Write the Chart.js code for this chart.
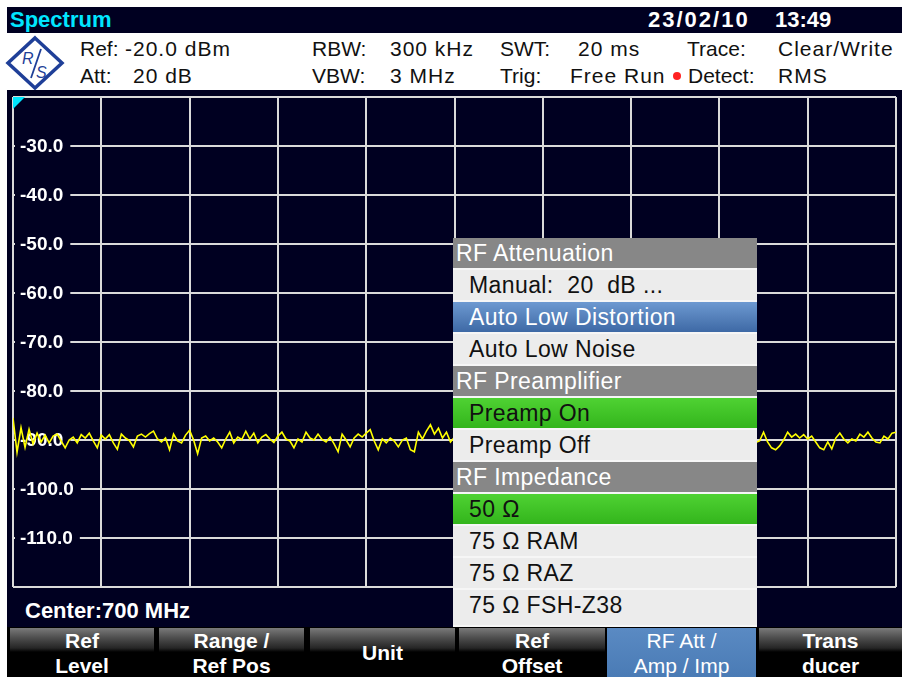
<!DOCTYPE html>
<html>
<head>
<meta charset="utf-8">
<script src="https://cdn.jsdelivr.net/npm/chart.js@4.4.0/dist/chart.umd.min.js"></script>
<style>
    body { margin: 0; width: 902px; height: 677px; overflow: hidden; background: #fff; font-family: "Liberation Sans", Arial, sans-serif; }
    .abs { position: absolute; white-space: nowrap; }
    #topbar { left: 7px; top: 7px; width: 895px; height: 26px; background: #000021; }
    #info { left: 7px; top: 33px; width: 895px; height: 57px; background: #fff; }
    #screen { left: 7px; top: 90px; width: 895px; height: 538px; background: #000021; }
    #keys { left: 7px; top: 627px; width: 895px; height: 50px; background: #000; }
    .hdr { font-weight: bold; font-size: 22px; line-height: 26px; top: 7px; }
    .inf { font-size: 21px; line-height: 26px; color: #111; }
    .inf.val { letter-spacing: 1px; }
    .key { top: 628px; height: 49px; color: #fff; font-weight: bold; font-size: 21px; line-height: 25px; text-align: center;
           background: linear-gradient(to bottom, #7a7a7a 0px, #4d4d4d 10px, #262626 20px, #000 24px); }
    .key.active { background: linear-gradient(to bottom, #5a8ac3 0px, #4a7bb5 100%); font-weight: normal; }
    .key.single { line-height: 49px; }
    #menu { left: 453px; top: 238px; width: 304px; height: 389px; background: #f6f6f6; }
    .row { position: absolute; left: 0; width: 304px; height: 30px; line-height: 31px; font-size: 23px; letter-spacing: 0.4px; color: #111;
           padding-left: 16px; box-sizing: border-box; background: #ececec; white-space: pre; }
    .row.head { background: #878787; color: #fff; padding-left: 3px; }
    .row.sel { background: linear-gradient(to bottom, #6d99d1, #3e69a5); color: #fff; }
    .row.on { background: linear-gradient(to bottom, #4fd233, #33b51c); }
</style>
</head>
<body>
<div id="topbar" class="abs"></div>
<div id="info" class="abs"></div>
<div id="screen" class="abs"></div>
<div id="keys" class="abs"></div>

<div class="abs hdr" style="left:10px;color:#00e6ff;">Spectrum</div>
<div class="abs hdr" style="left:648px;color:#fff;letter-spacing:2px;">23/02/10</div>
<div class="abs hdr" style="left:775px;color:#fff;">13:49</div>

<svg class="abs" style="left:0;top:33px;" width="70" height="57">
    <polygon points="35,5 62,30 35,55 8,30" fill="none" stroke="#1f3f98" stroke-width="3.5"/>
    <text x="22" y="31" font-size="16" font-style="italic" font-family="Liberation Sans" fill="#1f3f98">R</text>
    <line x1="41" y1="16" x2="31" y2="45" stroke="#1f3f98" stroke-width="1.8"/>
    <text x="36" y="45" font-size="16" font-style="italic" font-family="Liberation Sans" fill="#1f3f98">S</text>
</svg>

<div id="infoText"></div>
<div class="abs" style="left:673px;top:72px;width:8px;height:8px;border-radius:4px;background:#f22;"></div>

<div class="abs" style="left:0;top:90px;width:902px;height:500px;"><canvas id="spectrum-chart" width="902" height="500"></canvas></div>

<div class="abs" style="left:25px;top:598px;color:#fff;font-weight:bold;font-size:22px;line-height:26px;">Center:700 MHz</div>

<div id="menu" class="abs"></div>
<div id="softkeys"></div>

<script>
const traceLevels = [
    -85.5, -92.5, -87.5, -91.5, -87.8, -90.8, -88.6, -90.4, -89.0, -90.6, -89.2,
    -88.8, -90.2, -91.6, -90.0, -89.4, -90.6, -88.9, -89.6, -88.6, -90.2,
    -91.6, -89.0, -89.8, -88.9, -90.6, -91.9, -88.8, -89.6, -90.1, -91.4,
    -89.2, -88.8, -89.4, -88.7, -88.2, -89.8, -90.4, -89.6, -92.0, -88.8,
    -90.2, -90.6, -89.0, -88.0, -90.0, -92.8, -89.6, -89.2, -90.2, -89.6,
    -90.4, -91.6, -89.8, -88.4, -90.6, -89.4, -89.9, -88.2, -89.8, -88.6,
    -90.6, -89.4, -88.9, -89.8, -90.5, -89.2, -88.4, -89.8, -90.2, -91.6,
    -89.8, -90.4, -88.4, -89.6, -90.0, -88.8, -89.9, -90.4, -89.4, -90.8,
    -92.4, -88.8, -90.0, -91.4, -89.6, -88.8, -89.4, -88.6, -87.9, -90.2,
    -92.0, -89.8, -90.6, -89.6, -90.2, -91.4, -90.0, -89.6, -92.0, -92.4,
    -88.4, -89.8, -88.2, -86.9, -88.8, -87.6, -89.6, -88.4, -90.4, -89.4,
    // behind the menu
    -90.2, -88.9, -89.7, -91.2, -89.4, -88.6, -90.3, -89.1, -90.8, -89.5,
    -88.7, -90.1, -91.5, -89.3, -89.9, -88.5, -90.4, -89.2, -90.9, -89.6,
    -88.3, -89.8, -90.6, -91.8, -89.5, -88.9, -90.0, -89.4, -88.6, -90.5,
    -89.7, -91.1, -89.0, -88.8, -90.2, -89.5, -90.7, -89.1, -88.4, -89.9,
    -91.3, -90.0, -89.2, -88.7, -90.4, -89.6, -90.9, -89.3, -88.9, -90.1,
    -91.7, -89.4, -88.5, -89.8, -90.3, -89.0, -90.6, -89.5, -88.8, -90.2,
    -89.7, -91.0, -89.3, -88.6, -90.0, -89.4, -90.8, -89.9, -88.7, -90.3,
    -89.1, -91.4, -89.6, -88.9, -90.5,
    // right of the menu
    -90.2, -88.4, -90.4, -91.6, -92.0, -91.2, -90.0, -88.4, -89.4, -88.8,
    -89.6, -88.9, -89.8, -89.2, -90.4, -91.6, -92.0, -90.4, -91.8, -89.6,
    -88.6, -89.8, -90.6, -89.8, -90.2, -88.8, -89.4, -88.4, -89.6, -90.4,
    -90.6, -89.2, -89.8, -88.6, -88.4
]
const refLevel = -20
const bottomLevel = -120
const levelLabels = [-30, -40, -50, -60, -70, -80, -90, -100, -110]

// [text, left, top, is value]
const infoLines = [
    ["Ref:", 80, 36, 0], ["-20.0 dBm", 125, 36, 1], ["Att:", 80, 63, 0], ["20 dB", 133, 63, 1],
    ["RBW:", 312, 36, 0], ["300 kHz", 390, 36, 1], ["VBW:", 312, 63, 0], ["3 MHz", 390, 63, 1],
    ["SWT:", 500, 36, 0], ["20 ms", 578, 36, 1], ["Trig:", 500, 63, 0], ["Free Run", 570, 63, 1],
    ["Trace:", 687, 36, 0], ["Clear/Write", 778, 36, 1], ["Detect:", 688, 63, 0], ["RMS", 778, 63, 1]
]
const menuItems = [
    ["RF Attenuation", "head"], ["Manual:  20  dB ...", ""], ["Auto Low Distortion", "sel"], ["Auto Low Noise", ""],
    ["RF Preamplifier", "head"], ["Preamp On", "on"], ["Preamp Off", ""],
    ["RF Impedance", "head"], ["50 \u03a9", "on"], ["75 \u03a9 RAM", ""], ["75 \u03a9 RAZ", ""], ["75 \u03a9 FSH-Z38", ""]
]
const softkeys = [
    [["Ref", "Level"], 10, 154], [["Range /", "Ref Pos"], 159, 304], [["Unit"], 310, 455],
    [["Ref", "Offset"], 459, 605], [["RF Att /", "Amp / Imp"], 607, 756], [["Trans", "ducer"], 759, 902]
]
const activeKey = 4
const screenColor = '#000021'

// header texts
let html = ''
infoLines.forEach(l => {
    html += `<div class="abs inf${l[3] ? ' val' : ''}" style="left:${l[1]}px;top:${l[2]}px;">${l[0]}</div>`
})
document.getElementById('infoText').innerHTML = html

html = ''
menuItems.forEach((item, i) => {
    const h = i === menuItems.length - 1 ? 35 : 30
    html += `<div class="row ${item[1]}" style="top:${i * 32}px;height:${h}px;">${item[0]}</div>`
})
document.getElementById('menu').innerHTML = html

html = ''
softkeys.forEach((k, i) => {
    const cls = 'abs key' + (i === activeKey ? ' active' : '') + (k[0].length === 1 ? ' single' : '')
    html += `<div class="${cls}" style="left:${k[1]}px;width:${k[2] - k[1]}px;">${k[0].join('<br>')}</div>`
})
document.getElementById('softkeys').innerHTML = html

// level labels sit inside the grid on a dark box, the trace runs over them
const levelLabelPlugin = {
    id: 'levelLabels',
    beforeDatasetsDraw(chart) {
        const ctx = chart.ctx
        const area = chart.chartArea
        const yScale = chart.scales.y
        ctx.save()
        ctx.font = 'bold 19px "Liberation Sans", Arial, sans-serif'
        ctx.textBaseline = 'middle'
        levelLabels.forEach(v => {
            const y = yScale.getPixelForValue(v)
            const txt = v.toFixed(1)
            const w = ctx.measureText(txt).width
            ctx.fillStyle = screenColor
            ctx.fillRect(area.left + 2, y - 8, w + 12, 16)
            ctx.fillStyle = '#ffffff'
            ctx.fillText(txt, area.left + 7, y + 1)
        })
        // cyan corner marker
        ctx.fillStyle = '#00e5ff'
        ctx.beginPath()
        ctx.moveTo(area.left, area.top)
        ctx.lineTo(area.left + 12, area.top)
        ctx.lineTo(area.left, area.top + 12)
        ctx.closePath()
        ctx.fill()
        ctx.restore()
    }
}

const lastIndex = traceLevels.length - 1
const gridStyle = { color: '#dadada', lineWidth: 2, drawTicks: false }

new Chart(document.getElementById('spectrum-chart').getContext('2d'), {
    type: 'line',
    data: {
        datasets: [{
            data: traceLevels.map((v, i) => ({ x: i, y: v })),
            borderColor: '#ffff00',
            borderWidth: 1.6,
            pointRadius: 0,
            tension: 0
        }]
    },
    options: {
        responsive: false,
        animation: false,
        layout: { padding: { left: 13, right: 6, top: 7, bottom: 3 } },
        plugins: { legend: { display: false }, tooltip: { enabled: false } },
        scales: {
            x: {
                type: 'linear', min: 0, max: lastIndex,
                ticks: { display: false, stepSize: lastIndex / 10 },
                grid: gridStyle,
                border: { display: false }
            },
            y: {
                min: bottomLevel, max: refLevel,
                ticks: { display: false, stepSize: 10 },
                grid: gridStyle,
                border: { display: false }
            }
        }
    },
    plugins: [levelLabelPlugin]
})
</script>
</body>
</html>
